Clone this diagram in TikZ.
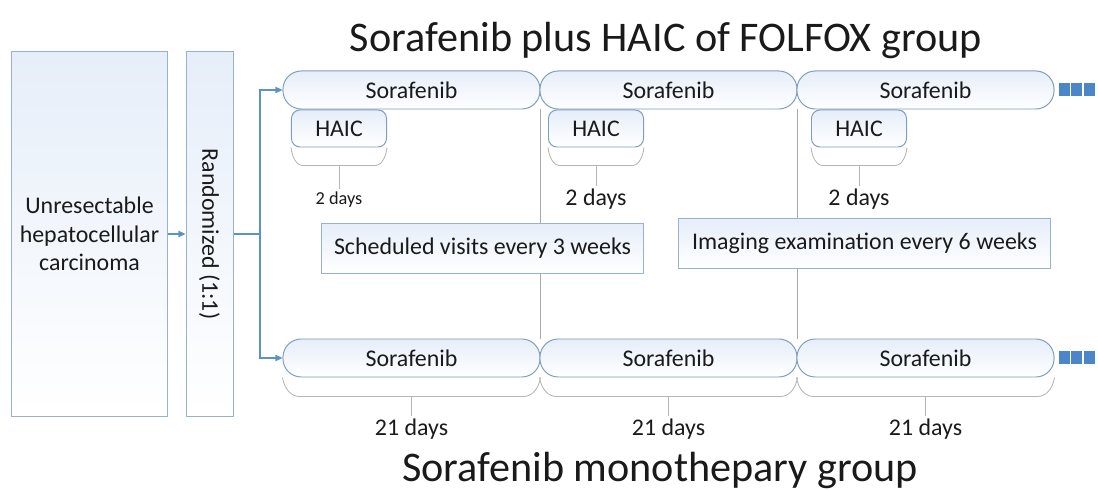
\documentclass[tikz,border=0pt]{standalone}
\usepackage{fontspec}
\setmainfont{Carlito}
\usetikzlibrary{arrows.meta,calc}
\definecolor{bEdge}{HTML}{7F9DBD}
\definecolor{bFill}{HTML}{E6EEF9}
\definecolor{aBlue}{HTML}{5B93C9}
\definecolor{sqBlue}{HTML}{4A86C8}
\definecolor{gLine}{HTML}{A8A8A8}
\definecolor{tInk}{HTML}{1A1A1A}

\begin{document}
\begin{tikzpicture}[x=0.025cm,y=-0.025cm,font=\fontsize{17}{20.4}\selectfont,text=tInk]
    \pgfmathsetmacro{\w}{257}	%period width in px
    \tikzset{
        box/.style={draw=bEdge!80, line width=0.7pt, top color=bFill, bottom color=white, inner sep=0pt},
        drug/.style={box, draw=bEdge, rounded corners=13pt, minimum width=6.425cm, minimum height=0.95cm},
        haic/.style={box, draw=bEdge, rounded corners=6pt, minimum width=2.375cm, minimum height=0.925cm},
        note/.style={box, minimum height=1.225cm},
        days/.style={inner sep=2pt},
        link/.style={draw=aBlue, line width=0.8pt},
        arr/.style={link, -{Triangle[length=5pt,width=4.5pt]}},
        guide/.style={draw=gLine, line width=0.6pt},
        brace/.style={draw=gLine!85, line width=0.6pt},
        title/.style={font=\fontsize{30}{34}\selectfont}
    }
    \useasboundingbox (0,0) rectangle (1098,490);

    \node[title] (top) at (666,40) {Sorafenib plus HAIC of FOLFOX group};
    \node[title] (bot) at (660,470) {Sorafenib monothepary group};

    \node[box, minimum width=3.875cm, minimum height=9.1cm, align=center] (pt) at (89.5,234) {Unresectable\\hepatocellular\\carcinoma};
    \node[box, minimum width=1.175cm, minimum height=9.1cm] (rnd) at (209.5,234) {\rotatebox{-90}{Randomized (1:1)}};
    \draw[arr] (pt.east) -- (rnd.west);

    % three 21-day periods per arm
    \foreach \i in {1,2,3}{
        \node[drug] (s\i) at ({283+\w*(\i-0.5)},90) {Sorafenib};
        \node[drug] (m\i) at ({283+\w*(\i-0.5)},358) {Sorafenib};
        \draw[brace] (m\i.south west) .. controls +(2,12) and +(-8,0) .. ++(17,19) -- ($(m\i.south east)+(-17,19)$) .. controls +(8,0) and +(-2,12) .. (m\i.south east);
        \node[days] (md\i) at ($(m\i.south)+(0,52)$) {21 days};
        \draw[brace] ($(m\i.south)+(0,19)$) -- (md\i.north);
    }
    \foreach \i/\hx/\fs in {1/339/13, 2/596/17, 3/859/17}{
        \node[haic] (h\i) at (\hx,128.5) {HAIC};
        \draw[brace] (h\i.south west) .. controls +(1,10) and +(-5,0) .. ++(11,18) -- ($(h\i.south east)+(-11,18)$) .. controls +(5,0) and +(-1,10) .. (h\i.south east);
        \node[days, font=\fontsize{\fs}{\fs}\selectfont] (hd\i) at ($(h\i.south)+(0,52)$) {2 days};
        \draw[brace] ($(h\i.south)+(0,18)$) -- (hd\i.north);
    }

    \coordinate (split) at (260,234);
    \draw[link] (rnd.east) -- (split);
    \draw[arr] (split) |- (s1.west);
    \draw[arr] (split) |- (m1.west);

    \draw[guide] (s1.south east) -- (m1.north east);
    \draw[guide] (s2.south east) -- (m2.north east);

    \node[note, minimum width=8.025cm] (visit) at (482.5,248.5) {Scheduled visits every 3 weeks};
    \node[note, minimum width=9.275cm] (image) at (864.5,243.5) {Imaging examination every 6 weeks};

    \foreach \r in {s3,m3}
        \foreach \k in {0,1,2}
            \fill[sqBlue] ($(\r.east)+(4+12.5*\k,-6.5)$) rectangle ++(11,13);
\end{tikzpicture}
\end{document}
